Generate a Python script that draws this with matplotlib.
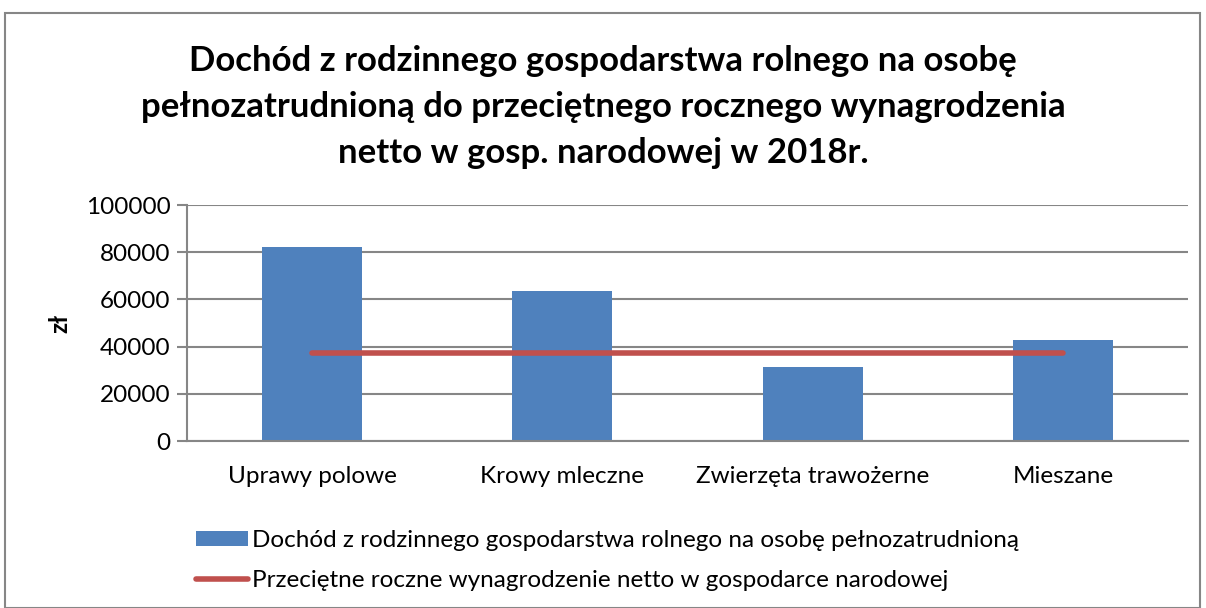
import matplotlib.pyplot as plt
from matplotlib.patches import Rectangle

categories = ["Uprawy polowe", "Krowy mleczne", "Zwierzęta trawożerne", "Mieszane"]
income = [82400, 63500, 31400, 42800]
salary = [37200, 37200, 37200, 37200]

title = ("Dochód z rodzinnego gospodarstwa rolnego na osobę\n"
         "pełnozatrudnioną do przeciętnego rocznego wynagrodzenia\n"
         "netto w gosp. narodowej w 2018r.")
bar_label = "Dochód z rodzinnego gospodarstwa rolnego na osobę pełnozatrudnioną"
line_label = "Przeciętne roczne wynagrodzenie netto w gospodarce narodowej"

plt.rcParams["font.family"] = ["Lato", "DejaVu Sans"]

fig = plt.figure(figsize=(12.06, 6.08), dpi=100)
# outer chart border
fig.patches.append(Rectangle((5 / 1206, 0), 1195 / 1206, 1 - 13 / 608,
                             transform=fig.transFigure, fill=False,
                             edgecolor="#868686", linewidth=1.5))

ax = fig.add_axes([187 / 1206, 1 - 441 / 608, 1001 / 1206, 236 / 608])
x = range(len(categories))
bars = ax.bar(x, income, width=0.4, color="#4F81BD", zorder=2)
line, = ax.plot(x, salary, color="#C0504D", linewidth=4, solid_capstyle="round",
                zorder=3)

ax.set_xlim(-0.5, len(categories) - 0.5)
ax.set_ylim(0, 100000)
ax.set_yticks(range(0, 100001, 20000))
ax.tick_params(axis="y", labelsize=17.5, length=7, width=1.5, color="#868686", pad=5)
ax.set_xticks(list(x))
ax.set_xticklabels(categories, fontsize=17.5)
ax.tick_params(axis="x", length=0, pad=18)
ax.grid(axis="y", color="#868686", linewidth=1.5, zorder=0)
ax.set_axisbelow(True)
for s in ["top", "right"]:
    ax.spines[s].set_visible(False)
for s in ["left", "bottom"]:
    ax.spines[s].set_color("#868686")
    ax.spines[s].set_linewidth(1.5)
ax.set_ylabel("zł", fontsize=17.5, fontweight="bold", labelpad=10)

fig.text(0.5, 1 - 107 / 608, title, ha="center", va="center", fontsize=25,
         fontweight="bold", linespacing=1.55)

fig.legend([bars, line], [bar_label, line_label],
           loc="upper left", bbox_to_anchor=(196 / 1206, 1 - 530 / 608),
           frameon=False, fontsize=17.5, handlelength=2.15, handleheight=0.6,
           handletextpad=0.15, labelspacing=0.78, borderaxespad=0, borderpad=0)

fig.savefig("out.png", dpi=100)
